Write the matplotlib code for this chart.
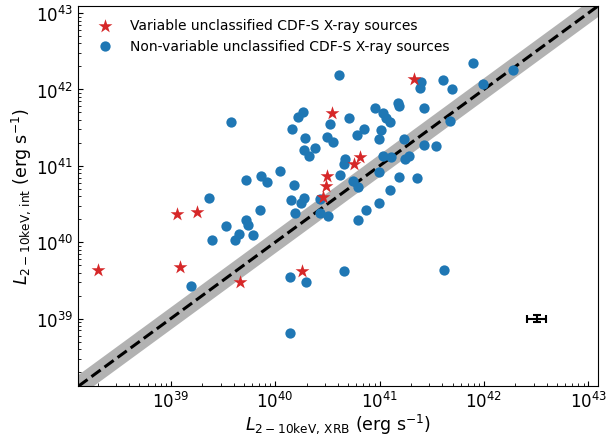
import numpy as np
import matplotlib
matplotlib.use("Agg")
import matplotlib.pyplot as plt

# non-variable sources: (L_XRB, L_int) in erg/s
nonvar_xrb = [4.13e40, 7.94e41, 1.88e42, 9.8e41, 4.06e41, 4.97e41, 2.47e41, 2.44e41,
              3.76e39, 1.84e40, 1.65e40, 3.38e40, 5.06e40, 1.44e40, 1.95e40, 3.13e40,
              3.56e40, 7.17e40, 6.14e40, 1.87e40, 2.43e40, 2.09e40, 4.71e40, 4.54e40,
              1.11e40, 7.3e39, 8.3e39, 5.3e39, 1.5e40, 4.22e40, 5.53e40, 6.18e40,
              9.14e40, 1.5e41, 1.55e41, 2.65e41, 1.07e41, 1.16e41, 1.27e41, 4.75e41,
              1.04e41, 9.83e40, 1.72e41, 2.69e41, 3.44e41, 1.07e41, 1.29e41, 1.75e41,
              1.91e41, 9.83e40, 1.55e41, 2.26e41, 1.27e41, 9.98e40, 7.48e40, 6.28e40,
              4.1e41, 1.43e40, 1.75e40, 1.88e40, 2.68e40, 7.21e39, 1.55e40, 2.68e40,
              3.19e40, 5.24e39, 5.45e39, 3.35e39, 4.47e39, 6.08e39, 2.46e39, 4.13e39,
              2.32e39, 1.4e40, 1.98e40, 4.53e40, 1.39e40, 1.57e39]
nonvar_int = [1.53e42, 2.23e42, 1.78e42, 1.18e42, 1.32e42, 1.02e42, 1.25e42, 1.05e42,
              3.74e41, 5.06e41, 4.35e41, 3.52e41, 4.27e41, 3.0e41, 2.29e41, 2.41e41,
              2.03e41, 3.0e41, 2.5e41, 1.6e41, 1.73e41, 1.34e41, 1.22e41, 1.07e41,
              8.63e40, 7.26e40, 6.11e40, 6.53e40, 5.67e40, 7.6e40, 6.34e40, 5.21e40,
              5.77e41, 6.67e41, 6.01e41, 5.7e41, 4.97e41, 4.27e41, 3.78e41, 3.88e41,
              2.97e41, 2.27e41, 2.27e41, 1.87e41, 1.81e41, 1.33e41, 1.32e41, 1.24e41,
              1.34e41, 8.19e40, 7.2e40, 6.98e40, 4.86e40, 3.28e40, 2.68e40, 1.98e40,
              4.39e39, 3.57e40, 3.31e40, 3.74e40, 3.63e40, 2.63e40, 2.39e40, 2.43e40,
              2.22e40, 1.97e40, 1.66e40, 1.61e40, 1.29e40, 1.25e40, 1.07e40, 1.06e40,
              3.8e40, 3.5e39, 3.05e39, 4.17e39, 6.5e38, 2.65e39]

# variable sources
var_xrb = [2.12e41, 3.51e40, 6.52e40, 5.71e40, 3.16e40, 3.08e40, 2.87e40,
           1.15e39, 1.78e39, 2.0e38, 1.23e39, 1.8e40, 4.62e39]
var_int = [1.39e42, 4.91e41, 1.29e41, 1.07e41, 7.33e40, 5.42e40, 3.89e40,
           2.34e40, 2.47e40, 4.39e39, 4.76e39, 4.17e39, 3.03e39]

# typical uncertainty marker (dex)
err_x, err_y = 3.2e42, 1.0e39
err_dex_x, err_dex_y = 0.09, 0.05

lims = [1.3e38, 1.25e43]
band_factor = 1.4

fig = plt.figure(figsize=(6.06, 4.35), dpi=100)
ax = fig.add_axes([0.1292, 0.1097, 0.8583, 0.8749])

xx = np.logspace(np.log10(lims[0]) - 0.5, np.log10(lims[1]) + 0.5, 50)
ax.fill_between(xx, xx / band_factor, xx * band_factor, color='gray', alpha=0.6,
                lw=0, zorder=1)
ax.plot(xx, xx, 'k--', lw=2.2, zorder=2)

ax.scatter(nonvar_xrb, nonvar_int, s=55, color='tab:blue', linewidths=0, zorder=3,
           label='Non-variable unclassified CDF-S X-ray sources')
ax.scatter(var_xrb, var_int, s=110, marker='*', color='tab:red', linewidths=0, zorder=4,
           label='Variable unclassified CDF-S X-ray sources')

xerr = [[err_x - err_x / 10**err_dex_x], [err_x * 10**err_dex_x - err_x]]
yerr = [[err_y - err_y / 10**err_dex_y], [err_y * 10**err_dex_y - err_y]]
ax.errorbar([err_x], [err_y], xerr=xerr, yerr=yerr, fmt='none', ecolor='k',
            elinewidth=1.5, capsize=3, capthick=1.5, zorder=5)

ax.set_xscale('log')
ax.set_yscale('log')
ax.set_xlim(lims)
ax.set_ylim(lims)
ax.tick_params(which='both', direction='in', top=False, right=False, labelsize=12)
ax.tick_params(which='major', length=3.5)
ax.tick_params(which='minor', length=2)

ax.set_xlabel(r'$L_{\mathrm{2-10keV,\,XRB}}$ (erg s$^{-1}$)', fontsize=12.5, labelpad=0)
ax.set_ylabel(r'$L_{\mathrm{2-10keV,\,int}}$ (erg s$^{-1}$)', fontsize=12.5, labelpad=2.5)

handles, labels = ax.get_legend_handles_labels()
ax.legend(handles[::-1], labels[::-1], loc='upper left', frameon=False, fontsize=10,
          scatterpoints=1)

fig.savefig('out.png', dpi=100)
